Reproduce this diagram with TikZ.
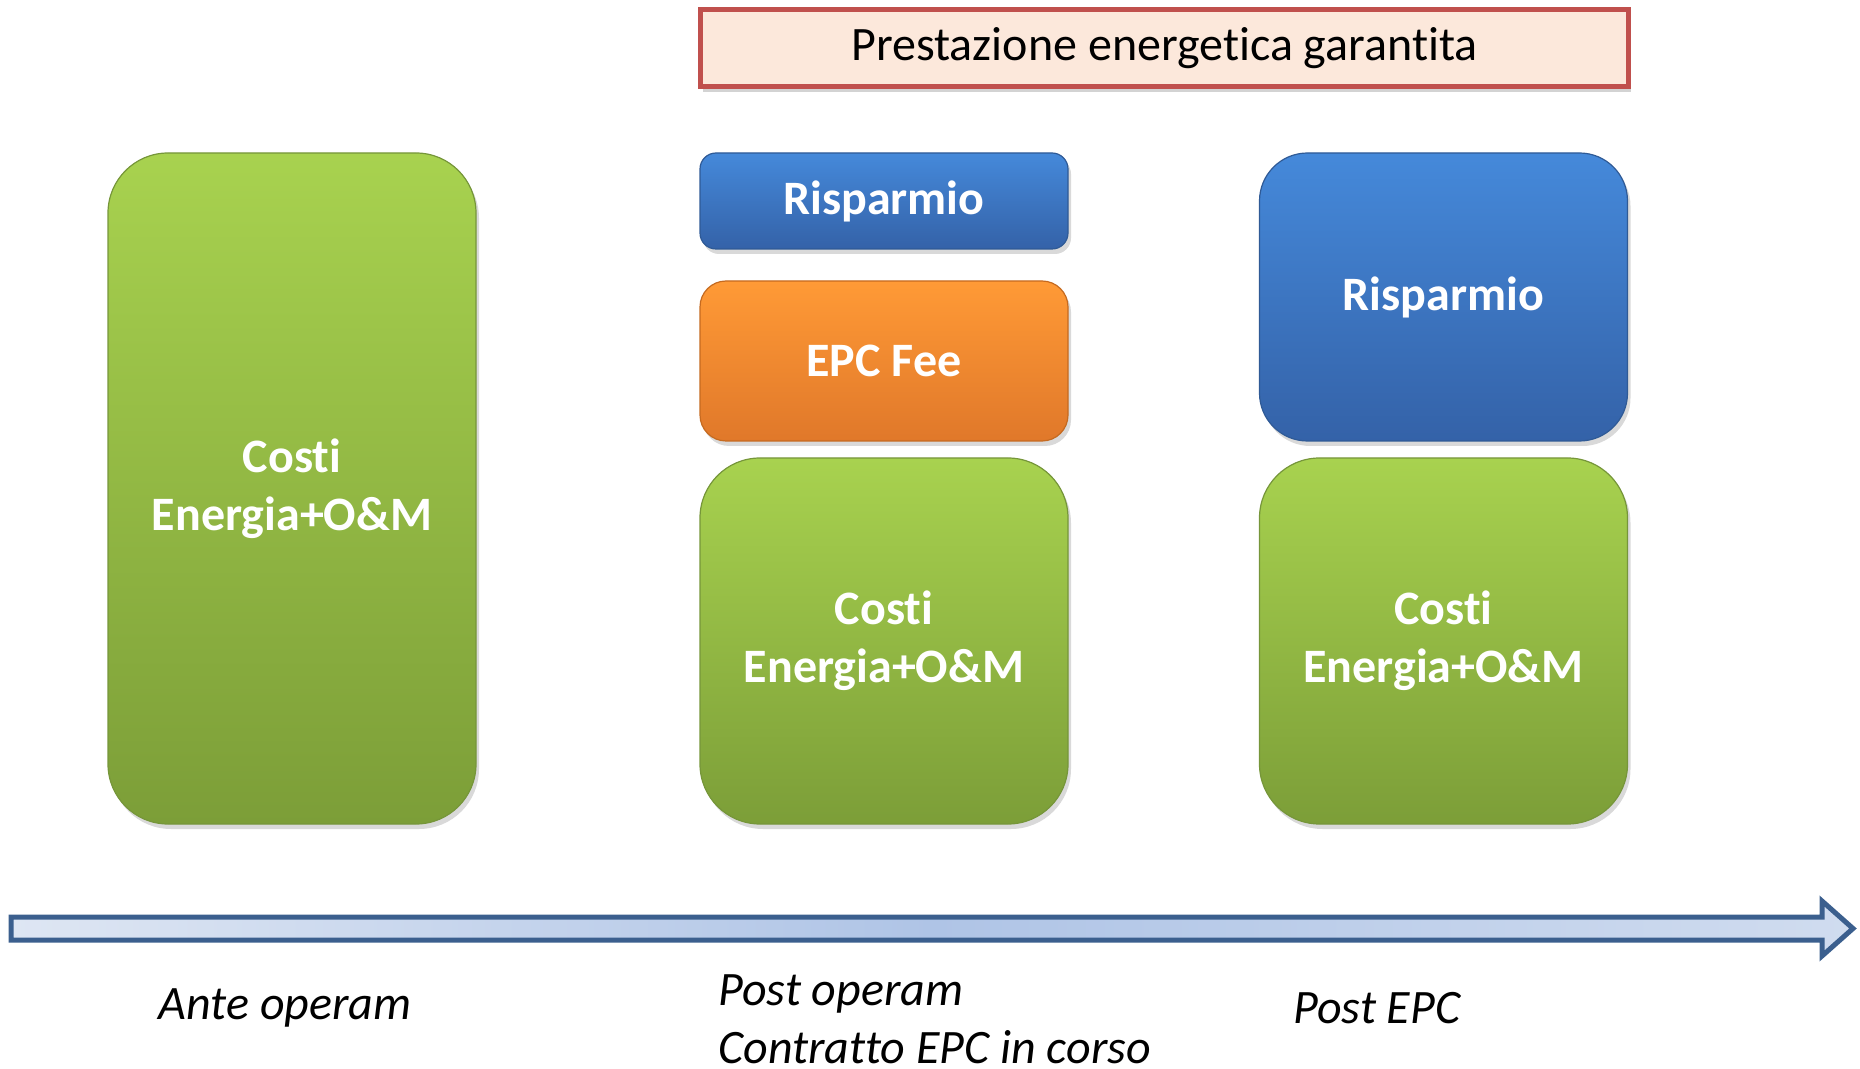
\documentclass[tikz,border=0pt]{standalone}
\usepackage{fontspec}
\setmainfont{Carlito}[Ligatures=NoCommon]
\usetikzlibrary{shadows}
\definecolor{greentop}{HTML}{A8D24F}
\definecolor{greenbot}{HTML}{7C9E38}
\definecolor{greenline}{HTML}{76963A}
\definecolor{bluetop}{HTML}{4589DA}
\definecolor{bluebot}{HTML}{3462A8}
\definecolor{blueline}{HTML}{2F5A96}
\definecolor{orangetop}{HTML}{FF9A36}
\definecolor{orangebot}{HTML}{E0782A}
\definecolor{orangeline}{HTML}{C56A20}
\definecolor{bannerfill}{HTML}{FCE8DB}
\definecolor{bannerline}{HTML}{C0504D}
\definecolor{arrowline}{HTML}{3B5F8E}
\definecolor{arrowleft}{HTML}{DEE6F3}
\definecolor{arrowmid}{HTML}{AFC4E6}
\definecolor{arrowright}{HTML}{D0DCEF}
\tikzset{
  block/.style={rectangle,minimum width=184pt,text=white,line width=0.6pt,align=center,font=\bfseries\fontsize{24}{29}\selectfont,drop shadow={shadow xshift=1.5pt,shadow yshift=-2.5pt,opacity=0.3}},
  costblock/.style={block,top color=greentop,bottom color=greenbot,draw=greenline,rounded corners=30pt},
  saveblock/.style={block,top color=bluetop,bottom color=bluebot,draw=blueline},
  feeblock/.style={block,top color=orangetop,bottom color=orangebot,draw=orangeline,rounded corners=13pt},
  banner/.style={rectangle,fill=bannerfill,draw=bannerline,line width=2.2pt,minimum width=464pt,minimum height=38.5pt,font=\fontsize{24}{28}\selectfont,drop shadow={shadow xshift=1pt,shadow yshift=-3pt,opacity=0.35}},
  phase/.style={align=left,inner sep=1pt,font=\itshape\fontsize{24}{29}\selectfont},
  timeline/.style={draw=arrowline,line width=2.5pt,left color=arrowleft,right color=arrowright,middle color=arrowmid}
}
\begin{document}
\begin{tikzpicture}[x=0.5pt,y=-0.5pt]
  \useasboundingbox (0,0) rectangle (1860,1069);
  \node[banner] (garanzia) at (1164.5,48) {Prestazione energetica garantita};
  \node[costblock,minimum height=335.5pt] (ante) at (292,488.5) {Costi\\Energia+O\&M};
  \node[saveblock,minimum height=48pt,rounded corners=8pt] (risparmio1) at (884,201) {Risparmio};
  \node[feeblock,minimum height=80pt] (fee) at (884,361) {EPC Fee};
  \node[costblock,minimum height=183pt] (costi1) at (884,641) {Costi\\Energia+O\&M};
  \node[saveblock,minimum height=144pt,rounded corners=24pt] (risparmio2) at (1443.5,297) {Risparmio};
  \node[costblock,minimum height=183pt] (costi2) at (1443.5,641) {Costi\\Energia+O\&M};
  \draw[timeline] (11,917) -- (1822,917) -- (1822,901) -- (1853,928.5) -- (1822,956) -- (1822,940) -- (11,940) -- cycle;
  \node[phase] (anteop) at (285,1008) {Ante operam};
  \node[phase,anchor=west] (postop) at (716,1019) {Post operam\\Contratto EPC in corso};
  \node[phase,anchor=west] (postepc) at (1291,1008) {Post EPC};
\end{tikzpicture}
\end{document}
